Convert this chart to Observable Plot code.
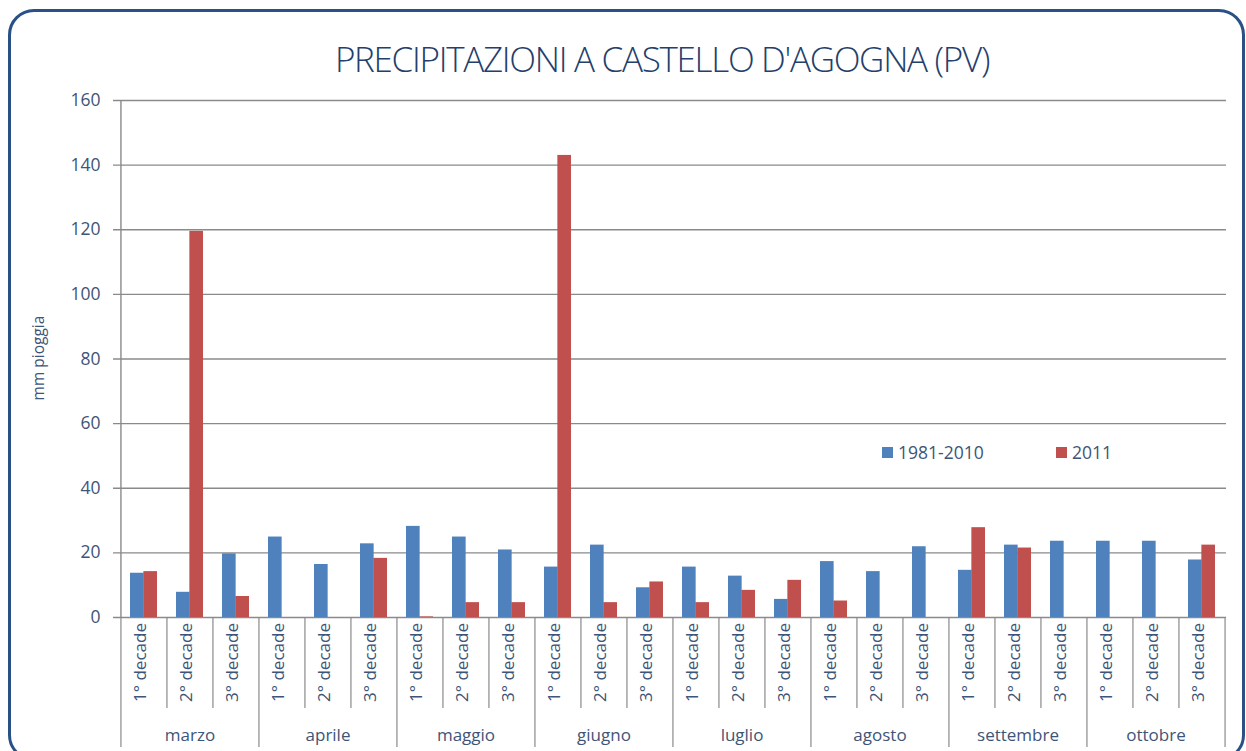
<!DOCTYPE html>
<html>
<head>
<meta charset="utf-8">
<script src="https://cdn.jsdelivr.net/npm/d3@7"></script>
<script src="https://cdn.jsdelivr.net/npm/@observablehq/plot@0.6"></script>
<style>
  html, body { margin: 0; padding: 0; background: #fff; overflow: hidden; }
  #wrap { position: relative; width: 1246px; height: 751px; overflow: hidden; font-family: "Open Sans", sans-serif; }
  #frame { position: absolute; left: 8px; top: 9px; width: 1237px; height: 752px; border: 3.5px solid #2a5186; border-radius: 26px; box-sizing: border-box; }
  #title { position: absolute; left: 39px; width: 1246px; top: 35px; text-align: center; font-size: 35px; font-weight: 300; color: #243f6b; letter-spacing: -1.3px; white-space: nowrap; }
  #ylabel { position: absolute; left: 38px; top: 358px; transform: translate(-50%, -50%) rotate(-90deg); font-size: 15.5px; color: #3e5478; white-space: nowrap; }
  .leg { position: absolute; top: 440px; font-size: 17.5px; color: #3e5478; display: flex; align-items: center; white-space: nowrap; }
  .sw { width: 11px; height: 11px; margin-right: 5px; }
  #chart { position: absolute; left: 0; top: 0; }
</style>
</head>
<body>
<div id="wrap">
  <div id="frame"></div>
  <div id="title">PRECIPITAZIONI A CASTELLO D'AGOGNA (PV)</div>
  <div id="ylabel">mm pioggia</div>
  <div class="leg" style="left:882px"><div class="sw" style="background:#4f81bd"></div>1981-2010</div>
  <div class="leg" style="left:1056px"><div class="sw" style="background:#c0504d"></div>2011</div>
  <div id="chart"></div>
</div>
<script>
const months = ["marzo","aprile","maggio","giugno","luglio","agosto","settembre","ottobre"];
const decades = ["1° decade","2° decade","3° decade"];
const series = ["1981-2010","2011"];
const normal = [13.7,7.8,19.7, 24.9,16.4,22.8, 28.2,24.9,20.9, 15.6,22.4,9.2, 15.6,12.8,5.6, 17.3,14.2,21.9, 14.6,22.4,23.6, 23.6,23.6,17.8];
const y2011  = [14.2,119.5,6.5, 0,0,18.3, 0.2,4.6,4.6, 143.0,4.6,11.0, 4.6,8.4,11.5, 5.1,0,0, 27.8,21.5,0, 0,0,22.4];
const yTicks = [0,20,40,60,80,100,120,140,160];
const colors = ["#4f81bd","#c0504d"];

const rows = [];
months.forEach((m, mi) => decades.forEach((d, di) => {
  const i = mi * 3 + di;
  rows.push({key: m + "|" + d, month: m, decade: d, di, normal: normal[i], y2011: y2011[i]});
}));
const keys = rows.map(r => r.key);
const monthRows = rows.filter(r => r.di === 1);
const firstRows = rows.filter(r => r.di === 0);
const innerRows = rows.filter(r => r.di !== 0);
const lastRow = rows.slice(-1);

const W = 1246, H = 751, mL = 119, mR = 20, mT = 100, mB = 134;
const step = (W - mL - mR) / keys.length;
const pad = 0.421;
const bw = step * (1 - pad);
const textColor = "#3e5478";
const gridColor = "#8a8a8a";

const chart = Plot.plot({
  width: W, height: H,
  marginTop: mT, marginBottom: mB, marginLeft: mL, marginRight: mR,
  x: {domain: keys, paddingInner: pad, paddingOuter: pad / 2, axis: null},
  y: {domain: [0, 160], axis: null},
  style: {fontFamily: "'Open Sans', sans-serif", background: "transparent", overflow: "visible"},
  marks: [
    Plot.ruleY(yTicks, {y: d => d, stroke: gridColor, strokeWidth: 1.4, insetLeft: -6}),
    Plot.barY(rows, {x: "key", y: "normal", fill: colors[0], insetRight: bw / 2}),
    Plot.barY(rows, {x: "key", y: "y2011", fill: colors[1], insetLeft: bw / 2}),
    Plot.ruleX(firstRows.slice(0, 1), {x: "key", dx: -step / 2, stroke: gridColor, strokeWidth: 1.4}),
    Plot.ruleX(innerRows, {x: "key", dx: -step / 2, stroke: gridColor, strokeWidth: 1.2, insetTop: H - mT - mB, insetBottom: -91}),
    Plot.ruleX(firstRows, {x: "key", dx: -step / 2, stroke: gridColor, strokeWidth: 1.2, insetTop: H - mT - mB, insetBottom: -130}),
    Plot.ruleX(lastRow, {x: "key", dx: step / 2, stroke: gridColor, strokeWidth: 1.2, insetTop: H - mT - mB, insetBottom: -130}),
    Plot.text(yTicks, {y: d => d, text: d => String(d), frameAnchor: "left", dx: -19, textAnchor: "end", fill: textColor, fontSize: 17.5}),
    Plot.text(rows, {x: "key", text: "decade", frameAnchor: "bottom", rotate: -90, dy: 45, dx: 1.5, textAnchor: "middle", fill: textColor, fontSize: 17}),
    Plot.text(monthRows, {x: "key", text: "month", frameAnchor: "bottom", dy: 123, textAnchor: "middle", fill: textColor, fontSize: 17})
  ]
});
document.getElementById("chart").appendChild(chart);
</script>
</body>
</html>
